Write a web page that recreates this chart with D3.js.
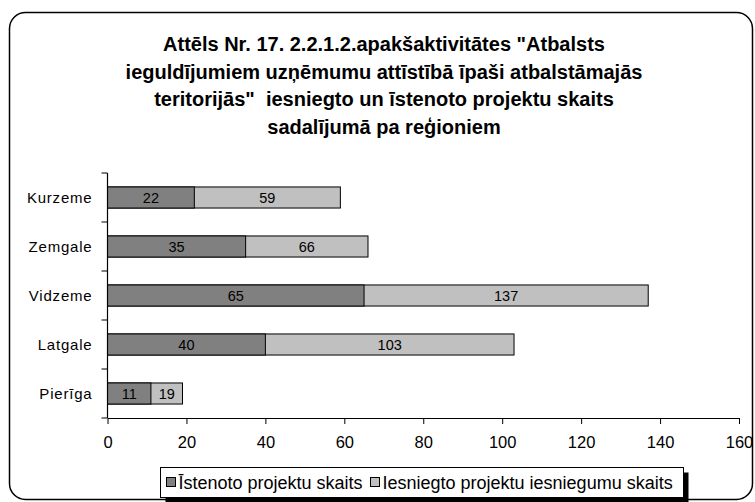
<!DOCTYPE html>
<html>
<head>
<meta charset="utf-8">
<script src="https://cdn.jsdelivr.net/npm/d3@7"></script>
<style>
  body { margin: 0; background: #fff; }
  text { font-family: "Liberation Sans", Arial, sans-serif; }
</style>
</head>
<body>
<script>
// chart data
const regions = ["Kurzeme", "Zemgale", "Vidzeme", "Latgale", "Pierīga"];
const istenoto = [22, 35, 65, 40, 11];
const iesniegto = [59, 66, 137, 103, 19];
const xTicks = [0, 20, 40, 60, 80, 100, 120, 140, 160];
const seriesNames = ["Īstenoto projektu skaits", "Iesniegto projektu iesniegumu skaits"];
const titleLines = [
  "Attēls Nr. 17. 2.2.1.2.apakšaktivitātes \"Atbalsts",
  "ieguldījumiem uzņēmumu attīstībā īpaši atbalstāmajās",
  "teritorijās\"  iesniegto un īstenoto projektu skaits",
  "sadalījumā pa reģioniem"
];

const width = 755, height = 502;
const plot = { left: 107.5, right: 739, top: 173, bottom: 418 };

const svg = d3.select("body").append("svg")
  .attr("width", width)
  .attr("height", height);

// outer frame
svg.append("rect")
  .attr("x", 9.5).attr("y", 12.5)
  .attr("width", 743).attr("height", 487)
  .attr("rx", 16).attr("ry", 16)
  .attr("fill", "#fff")
  .attr("stroke", "#000")
  .attr("stroke-width", 1.5);

// title
svg.append("text")
  .attr("text-anchor", "middle")
  .attr("font-size", 20)
  .attr("font-weight", "bold")
  .attr("xml:space", "preserve")
  .style("white-space", "pre")
  .selectAll("tspan")
  .data(titleLines)
  .join("tspan")
  .attr("x", 384)
  .attr("y", (d, i) => 51 + i * 27.5)
  .text(d => d);

const x = d3.scaleLinear().domain([0, 160]).range([plot.left, plot.right]);
const y = d3.scaleBand().domain(regions).range([plot.top, plot.bottom]).paddingInner(0.57).paddingOuter(0.285);

const rows = regions.map((r, i) => ({ region: r, a: istenoto[i], b: iesniegto[i] }));

// light bars (submitted) behind dark bars (implemented)
const bars = svg.append("g");
bars.selectAll("rect.total")
  .data(rows)
  .join("rect")
  .attr("class", "total")
  .attr("x", x(0))
  .attr("y", d => y(d.region))
  .attr("width", d => x(d.b) - x(0))
  .attr("height", y.bandwidth())
  .attr("fill", "#c0c0c0")
  .attr("stroke", "#000")
  .attr("stroke-width", 1);

bars.selectAll("rect.done")
  .data(rows)
  .join("rect")
  .attr("class", "done")
  .attr("x", x(0))
  .attr("y", d => y(d.region))
  .attr("width", d => x(d.a) - x(0))
  .attr("height", y.bandwidth())
  .attr("fill", "#808080")
  .attr("stroke", "#000")
  .attr("stroke-width", 1);

// value labels
const labels = svg.append("g").attr("font-size", 14.5).attr("text-anchor", "middle");
labels.selectAll("text.a")
  .data(rows)
  .join("text")
  .attr("class", "a")
  .attr("x", d => x(d.a / 2))
  .attr("y", d => y(d.region) + y.bandwidth() / 2 + 5.5)
  .text(d => d.a);
labels.selectAll("text.b")
  .data(rows)
  .join("text")
  .attr("class", "b")
  .attr("x", d => x((d.a + d.b) / 2))
  .attr("y", d => y(d.region) + y.bandwidth() / 2 + 5.5)
  .text(d => d.b);

// x axis
const xAxis = svg.append("g")
  .attr("transform", `translate(0,${plot.bottom})`)
  .call(d3.axisBottom(x).tickValues(xTicks).tickSize(6).tickSizeOuter(0));
xAxis.select(".domain").attr("stroke", "#000").attr("stroke-width", 1.2);
xAxis.selectAll(".tick line").attr("stroke", "#000");
xAxis.selectAll(".tick text")
  .attr("font-family", "Liberation Sans, Arial, sans-serif")
  .attr("font-size", 16.5)
  .attr("y", 24)
  .attr("dy", "0.35em");

// y axis: line with ticks between categories
const yAxis = svg.append("g");
yAxis.append("line")
  .attr("x1", plot.left).attr("x2", plot.left)
  .attr("y1", plot.top).attr("y2", plot.bottom)
  .attr("stroke", "#000").attr("stroke-width", 1.2);
const bounds = d3.range(regions.length + 1).map(i => plot.top + i * (plot.bottom - plot.top) / regions.length);
yAxis.selectAll("line.tk")
  .data(bounds)
  .join("line")
  .attr("class", "tk")
  .attr("x1", plot.left - 6).attr("x2", plot.left)
  .attr("y1", d => d).attr("y2", d => d)
  .attr("stroke", "#000");
yAxis.selectAll("text")
  .data(regions)
  .join("text")
  .attr("x", plot.left - 15)
  .attr("y", d => y(d) + y.bandwidth() / 2 + 5.5)
  .attr("text-anchor", "end")
  .attr("font-size", 15)
  .attr("letter-spacing", 0.8)
  .text(d => d);

// legend
const lg = svg.append("g").attr("transform", "translate(160.5,467.5)");
lg.append("rect").attr("x", 5).attr("y", 5).attr("width", 523).attr("height", 30).attr("fill", "#000");
lg.append("rect").attr("x", 0).attr("y", 0).attr("width", 523).attr("height", 30)
  .attr("fill", "#fff").attr("stroke", "#000").attr("stroke-width", 1);
const swatchFill = ["#808080", "#c0c0c0"];
const itemX = [6, 210];
seriesNames.forEach((name, i) => {
  lg.append("rect")
    .attr("x", itemX[i]).attr("y", 10)
    .attr("width", 9).attr("height", 9)
    .attr("fill", swatchFill[i]).attr("stroke", "#000");
  lg.append("text")
    .attr("x", itemX[i] + 12).attr("y", 21)
    .attr("font-size", 18)
    .text(name);
});
</script>
</body>
</html>
